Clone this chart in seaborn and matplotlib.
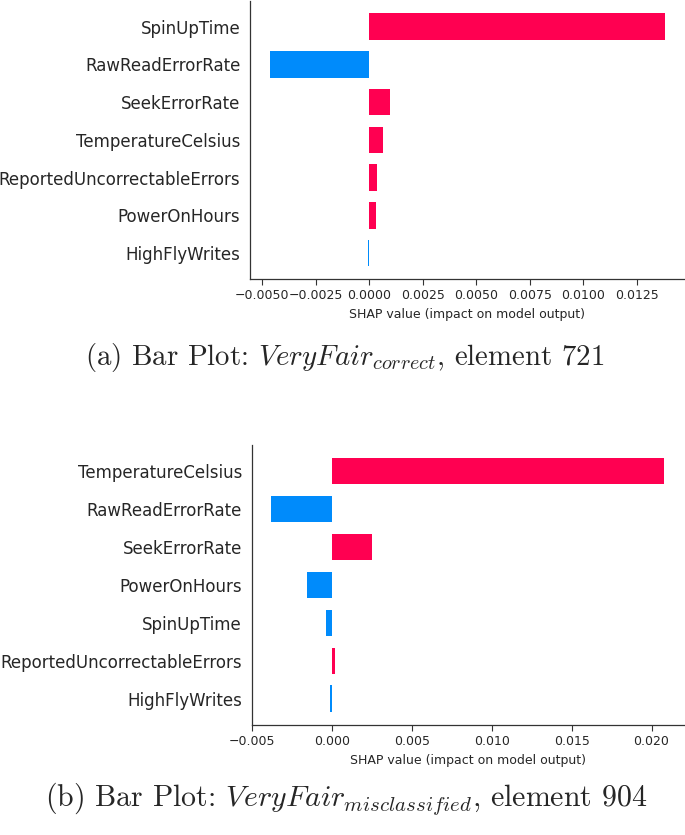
import numpy as np
import pandas as pd
import matplotlib
matplotlib.use('Agg')
import matplotlib.pyplot as plt
import seaborn as sns

# panel (a): VeryFair correct, element 721
features_a = ['SpinUpTime', 'RawReadErrorRate', 'SeekErrorRate', 'TemperatureCelsius',
              'ReportedUncorrectableErrors', 'PowerOnHours', 'HighFlyWrites']
shap_a = [0.0138, -0.00465, 0.00097, 0.00063, 0.00034, 0.00033, -0.00004]

# panel (b): VeryFair misclassified, element 904
features_b = ['TemperatureCelsius', 'RawReadErrorRate', 'SeekErrorRate', 'PowerOnHours',
              'SpinUpTime', 'ReportedUncorrectableErrors', 'HighFlyWrites']
shap_b = [0.0208, -0.0038, 0.0025, -0.00155, -0.0004, 0.0002, -0.00015]

captions = [r'(a) Bar Plot: $VeryFair_{correct}$, element 721',
            r'(b) Bar Plot: $VeryFair_{misclassified}$, element 904']

red = '#ff0051'
blue = '#008bfb'

sns.set_style('white')
plt.rcParams['font.family'] = ['DejaVu Sans']
plt.rcParams['mathtext.fontset'] = 'cm'

fig = plt.figure(figsize=(6.85, 8.35), dpi=100)
ax_a = fig.add_axes([0.365, 0.666, 0.634, 0.333])
ax_b = fig.add_axes([0.3675, 0.132, 0.631, 0.335])


def shap_bars(ax, feats, vals):
    df = pd.DataFrame({'feature': feats, 'value': vals})
    colors = [red if v > 0 else blue for v in vals]
    sns.barplot(data=df, x='value', y='feature', hue='feature', palette=colors,
                orient='h', width=0.7, legend=False, ax=ax, linewidth=0, saturation=1)
    n = len(feats)
    ax.set_ylim(n - 1 + 0.685, -0.685)
    ax.set_ylabel('')
    ax.set_xlabel('SHAP value (impact on model output)', fontsize=9)
    ax.tick_params(axis='y', length=0, labelsize=12, pad=7)
    ax.tick_params(axis='x', direction='out', length=4, width=0.8, labelsize=9,
                   bottom=True, color='#333333')
    for s in ['top', 'right']:
        ax.spines[s].set_visible(False)
    for s in ['left', 'bottom']:
        ax.spines[s].set_color('#333333')
        ax.spines[s].set_linewidth(0.9)


shap_bars(ax_a, features_a, shap_a)
shap_bars(ax_b, features_b, shap_b)

# captions in Computer Modern, like the LaTeX document they came from
fig.text(0.504, 0.5629, captions[0], ha='center', va='baseline', fontsize=20.8,
         family='cmr10')
fig.text(0.505, 0.0347, captions[1], ha='center', va='baseline', fontsize=21.5,
         family='cmr10')

fig.savefig('out.png', dpi=100)
